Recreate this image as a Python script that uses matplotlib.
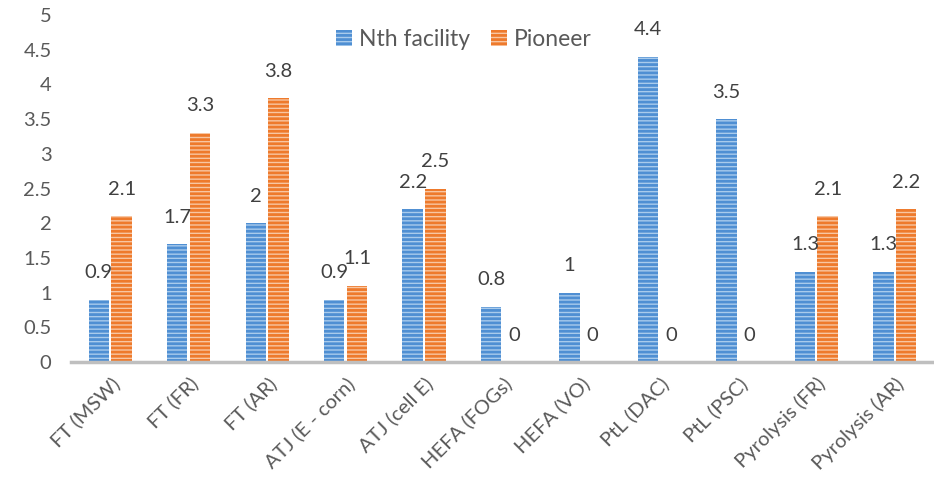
import matplotlib
matplotlib.use("Agg")
import matplotlib.pyplot as plt
import numpy as np

plt.rcParams["font.family"] = ["Lato", "DejaVu Sans"]
plt.rcParams["hatch.linewidth"] = 2.0

categories = ["FT (MSW)", "FT (FR)", "FT (AR)", "ATJ (E - corn)", "ATJ (cell E)",
              "HEFA (FOGs)", "HEFA (VO)", "PtL (DAC)", "PtL (PSC)",
              "Pyrolysis (FR)", "Pyrolysis (AR)"]
nth_facility = [0.9, 1.7, 2.0, 0.9, 2.2, 0.8, 1.0, 4.4, 3.5, 1.3, 1.3]
pioneer = [2.1, 3.3, 3.8, 1.1, 2.5, 0, 0, 0, 0, 2.1, 2.2]

BLUE_DARK, BLUE_LIGHT = "#4F8FD3", "#A9CBEC"
ORANGE_DARK, ORANGE_LIGHT = "#EE7A2C", "#F8C6A2"
TEXT = "#595959"
LABEL = "#404040"

fig = plt.figure(figsize=(9.34, 4.84), dpi=100, facecolor="white")
ax = fig.add_axes([0.076, 0.252, 0.924, 0.717])

x = np.arange(len(categories))
w = 0.26
gap = 0.03
b1 = ax.bar(x - (w + gap) / 2, nth_facility, w, facecolor=BLUE_LIGHT,
            edgecolor=BLUE_DARK, linewidth=0, hatch="----", label="Nth facility")
b2 = ax.bar(x + (w + gap) / 2, pioneer, w, facecolor=ORANGE_LIGHT,
            edgecolor=ORANGE_DARK, linewidth=0, hatch="----", label="Pioneer")

# value labels sit a fixed distance above each bar
for bars, vals in ((b1, nth_facility), (b2, pioneer)):
    for r, v in zip(bars, vals):
        ax.annotate(f"{v:g}", (r.get_x() + r.get_width() / 2, v),
                    xytext=(0, 27), textcoords="offset pixels",
                    ha="center", va="center", fontsize=14.5, color=LABEL)

ax.set_xlim(-0.5, len(categories) - 0.5)
ax.set_ylim(0, 5)
yt = np.arange(0, 5.01, 0.5)
ax.set_yticks(yt)
ax.set_yticklabels([f"{t:g}" for t in yt])
ax.set_xticks(x)
ax.set_xticklabels(categories, rotation=45, ha="right", rotation_mode="anchor")
ax.tick_params(axis="both", length=0, labelsize=14.5, colors=TEXT)
ax.tick_params(axis="y", pad=14)
ax.tick_params(axis="x", pad=9)

for s in ("top", "right", "left"):
    ax.spines[s].set_visible(False)
ax.spines["bottom"].set_color("#BFBFBF")
ax.spines["bottom"].set_linewidth(2.5)

ax.legend(loc="upper center", bbox_to_anchor=(0.455, 1.0), ncol=2, frameon=False,
          fontsize=16.5, handlelength=0.7, handleheight=0.7, handletextpad=0.3,
          columnspacing=0.9, labelcolor=TEXT, borderaxespad=0.2)

fig.savefig("out.png", dpi=100, facecolor="white")
